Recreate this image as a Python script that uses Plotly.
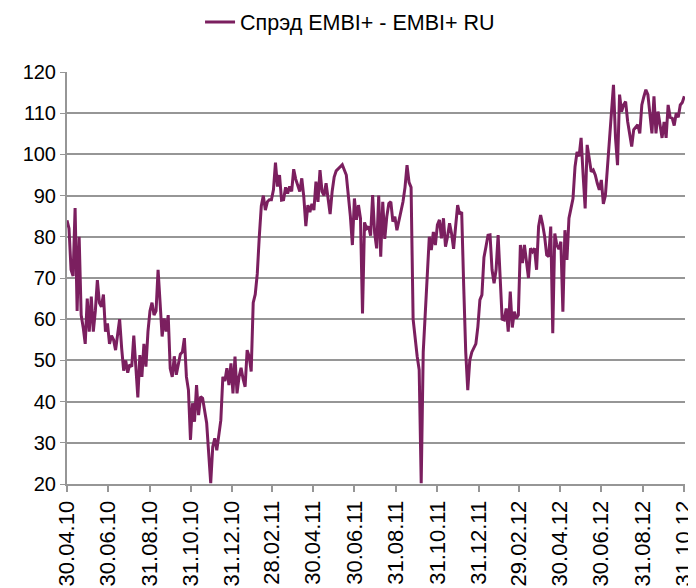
import pandas as pd
import plotly.graph_objects as go

# ── data ─────────────────────────────────────────────────────────────
# spread, one reading every 3 calendar days
START = "2010-04-30"
STEP = "3D"

spread = [
    84, 82, 72, 70.5, 87, 62, 80, 61, 58, 54,
    65, 57, 65.5, 57, 62, 69.5, 64, 63, 66, 57,
    59, 54, 56, 55, 52.5, 56, 60, 53, 47.5, 50,
    47, 49, 48.5, 56, 49, 41, 51.3, 46, 54, 48.5,
    57, 62, 64, 61, 62, 72, 64, 55.8, 60.2, 57,
    61, 48, 46, 51, 46.5, 49, 51.5, 52, 55.4, 46,
    42.8, 30.7, 39.6, 35.1, 44, 36.7, 41.2, 40.8, 37.2, 34.8,
    27.5, 20.2, 29, 31.1, 28.2, 31.9, 35.5, 46, 45, 48.1,
    44, 49.3, 42, 50.9, 42, 46, 48.2, 45.5, 43.6, 52.5,
    51, 47.3, 64, 66, 71, 80, 87.5, 90, 86.5, 88.5,
    89, 89, 91.4, 98, 92.2, 95, 88.9, 89, 92, 90.5,
    92.2, 91, 96.4, 94, 92.6, 91, 94.2, 89.7, 82.6, 87.7,
    86, 88, 86.5, 93.4, 88.5, 96.2, 91, 90, 93, 88.9,
    85.5, 91, 94.5, 96, 96.6, 97, 97.5, 96, 95, 90,
    85, 78, 89.3, 84.1, 87.7, 84.5, 61.4, 83.5, 82, 82.5,
    80.3, 90.1, 80.9, 77.2, 90, 75.2, 88.5, 79.5, 84.9, 88.1,
    88.5, 83.7, 84.9, 81.6, 83.7, 86.5, 88.5, 92, 97.4, 93.2,
    92, 60, 55, 51, 47.7, 20.2, 52, 61.4, 71, 80,
    76.8, 81.2, 78, 82.9, 84.1, 79.6, 84.5, 77.6, 80, 83.3,
    80.8, 77.1, 82.5, 87.7, 85.5, 86, 68, 52, 42.8, 50,
    52, 53, 54, 58.2, 64.7, 65.9, 75, 77.6, 80.4, 80.5,
    72, 68.7, 72, 80.4, 70, 60, 59.8, 62.6, 57, 66.7,
    58, 61.8, 60.2, 61, 78, 73.6, 78, 73.6, 70, 77.2,
    76.4, 77.2, 72, 82.5, 85.3, 83, 80, 75.6, 75.2, 82.5,
    56.6, 80.8, 78, 77, 78.8, 61.8, 81.6, 74.4, 84.5, 86.9,
    89.3, 97, 100.6, 99.5, 104, 95, 86.9, 102.3, 98.5, 95.8,
    96.2, 95, 93, 91.4, 93.8, 88, 90, 96.6, 104, 110.4,
    116.9, 104, 97.4, 114.5, 110.4, 112, 112.8, 108, 104.3, 101.9,
    106, 106.5, 107.2, 105.1, 112, 114, 115.7, 114.5, 109, 105.1,
    114.1, 105.1, 110.4, 107.5, 104, 107.9, 104, 112, 109, 108.8,
    107, 110, 109, 112, 112.6, 114.1,
]

tick_dates = [
    "2010-04-30", "2010-06-30", "2010-08-31", "2010-10-31",
    "2010-12-31", "2011-02-28", "2011-04-30", "2011-06-30",
    "2011-08-31", "2011-10-31", "2011-12-31", "2012-02-29",
    "2012-04-30", "2012-06-30", "2012-08-31", "2012-10-31",
]
tick_labels = [
    "30.04.10", "30.06.10", "31.08.10", "31.10.10",
    "31.12.10", "28.02.11", "30.04.11", "30.06.11",
    "31.08.11", "31.10.11", "31.12.11", "29.02.12",
    "30.04.12", "30.06.12", "31.08.12", "31.10.12",
]

dates = pd.date_range(START, periods=len(spread), freq=STEP)

# ── chart ────────────────────────────────────────────────────────────
FONT = "Liberation Sans, Arial, sans-serif"
GRID = "#969696"

# the page body adds an 8px margin, so the figure is drawn 8px smaller
fig = go.Figure()
fig.add_trace(
    go.Scatter(
        x=dates,
        y=spread,
        name="Спрэд EMBI+ - EMBI+ RU",
        mode="lines",
        line={"color": "#7B1F5F", "width": 3},
    )
)
fig.update_layout(
    width=688,
    height=580,
    margin={"l": 59, "r": 11, "t": 64, "b": 104},
    plot_bgcolor="white",
    paper_bgcolor="white",
    font={"family": FONT, "size": 20, "color": "#000000"},
    showlegend=True,
    legend={
        "x": 0.458,
        "y": 0.976,
        "xref": "paper",
        "yref": "container",
        "xanchor": "center",
        "yanchor": "middle",
        "orientation": "h",
        "font": {"size": 21.5},
    },
    xaxis={
        "type": "date",
        "range": [tick_dates[0], "2012-11-01"],
        "tickvals": tick_dates,
        "ticktext": tick_labels,
        "tickangle": -90,
        "tickfont": {"size": 22},
        "ticklabeloverflow": "allow",
        "ticks": "outside",
        "ticklen": 6,
        "tickcolor": GRID,
        "tickwidth": 1.5,
        "showgrid": False,
        "showline": True,
        "linecolor": GRID,
        "linewidth": 2,
        "automargin": False,
        "zeroline": False,
    },
    yaxis={
        "range": [20, 120],
        "dtick": 10,
        "ticks": "outside",
        "ticklen": 5,
        "tickcolor": GRID,
        "showgrid": True,
        "gridcolor": GRID,
        "gridwidth": 2,
        "showline": True,
        "linecolor": GRID,
        "linewidth": 2,
        "zeroline": False,
        "automargin": False,
    },
)
fig.write_html("out.html")
